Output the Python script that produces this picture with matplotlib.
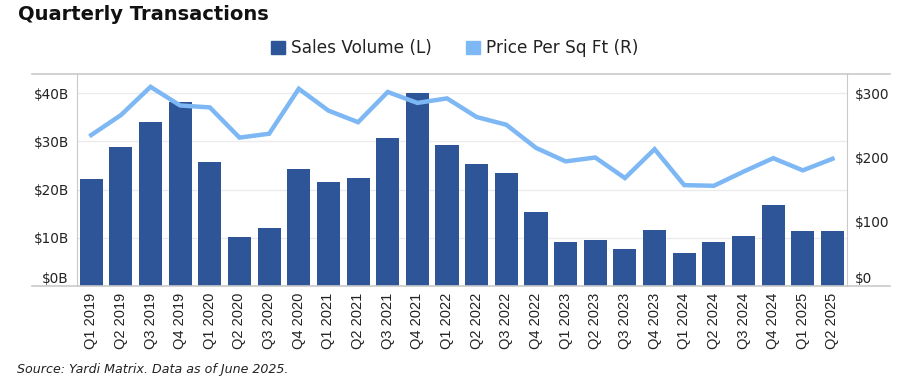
import matplotlib
matplotlib.use("Agg")
import matplotlib.pyplot as plt
from matplotlib.lines import Line2D
from matplotlib.patches import Patch

quarters = ["Q1 2019", "Q2 2019", "Q3 2019", "Q4 2019", "Q1 2020", "Q2 2020", "Q3 2020",
            "Q4 2020", "Q1 2021", "Q2 2021", "Q3 2021", "Q4 2021", "Q1 2022", "Q2 2022",
            "Q3 2022", "Q4 2022", "Q1 2023", "Q2 2023", "Q3 2023", "Q4 2023", "Q1 2024",
            "Q2 2024", "Q3 2024", "Q4 2024", "Q1 2025", "Q2 2025"]
sales_volume_b = [22.2, 28.8, 34.0, 38.2, 25.7, 10.2, 12.0, 24.3, 21.6, 22.4, 30.7, 40.0, 29.3,
                  25.3, 23.4, 15.4, 9.1, 9.5, 7.7, 11.6, 6.8, 9.1, 10.4, 16.8, 11.4, 11.4]
price_psf = [235, 266, 310, 281, 278, 231, 237, 307, 273, 255, 302, 285, 292,
             263, 251, 215, 194, 200, 168, 213, 157, 156, 178, 199, 180, 198]
left_ticks = [0, 10, 20, 30, 40]
left_labels = ["$0B", "$10B", "$20B", "$30B", "$40B"]
right_ticks = [0, 100, 200, 300]
right_labels = ["$0", "$100", "$200", "$300"]

bar_color = "#2E5597"
line_color = "#7DB8F4"
text_color = "#222222"
grid_color = "#EBEBEB"
frame_color = "#C9C9C9"

plt.rcParams["font.family"] = ["DejaVu Sans"]

fig = plt.figure(figsize=(9.21, 3.91), dpi=100)
ax = fig.add_axes([77 / 921, 1 - 286 / 391, (846.7 - 77) / 921, (286 - 74) / 391])
ax2 = ax.twinx()

x = list(range(len(quarters)))
ax.bar(x, sales_volume_b, width=0.78, color=bar_color, zorder=2)
ax2.plot(x, price_psf, color=line_color, linewidth=3.2, solid_joinstyle="miter", zorder=3)

ax.set_xlim(-0.48, len(quarters) - 0.52)
ax.set_ylim(0, 44)
ax2.set_ylim(0, 330)

ax.set_yticks(left_ticks)
ax.set_yticklabels(left_labels)
ax2.set_yticks(right_ticks)
ax2.set_yticklabels(right_labels)
ax.set_xticks(x)

for a in (ax, ax2):
    for s in a.spines.values():
        s.set_visible(False)
    a.tick_params(axis="both", length=0, labelsize=9.8, labelcolor=text_color)
ax.set_xticklabels(quarters, rotation=90, family=["Liberation Sans"], fontsize=10.5,
                   color=text_color)
ax.tick_params(axis="y", pad=6)
ax2.tick_params(axis="y", pad=6)
ax.tick_params(axis="x", pad=5)
ax.spines["left"].set_visible(True)
ax.spines["left"].set_color(frame_color)
ax2.spines["right"].set_visible(True)
ax2.spines["right"].set_color(frame_color)

ax.yaxis.grid(True, color=grid_color, linewidth=1)
ax.set_axisbelow(True)
ax.set_zorder(1)
ax2.set_zorder(2)
ax.patch.set_visible(False)

# zero labels sit just above the baseline
for lab in (ax.get_yticklabels()[0], ax2.get_yticklabels()[0]):
    lab.set_verticalalignment("bottom")

# frame lines extending across width
for yy in (74.3, 285.7):
    fig.add_artist(Line2D([32 / 921, 890 / 921], [1 - yy / 391, 1 - yy / 391],
                          color=frame_color, linewidth=1.2, transform=fig.transFigure))

fig.text(18 / 921, 1 - 15 / 391, "Quarterly Transactions", fontsize=14, fontweight="bold",
         color="#111111", va="center", ha="left")

handles = [Patch(color=bar_color, label="Sales Volume (L)"),
           Patch(color=line_color, label="Price Per Sq Ft (R)")]
fig.legend(handles=handles, loc="center", bbox_to_anchor=(455 / 921, 1 - 48 / 391), ncol=2,
           frameon=False, fontsize=12.2, handlelength=0.8, handleheight=0.8, handletextpad=0.4,
           columnspacing=2.0, labelcolor=text_color)

fig.text(17 / 921, 1 - 369 / 391, "Source: Yardi Matrix. Data as of June 2025.", fontsize=9.1,
         style="italic", color=text_color, va="center", ha="left")

fig.savefig("out.png", dpi=100)
